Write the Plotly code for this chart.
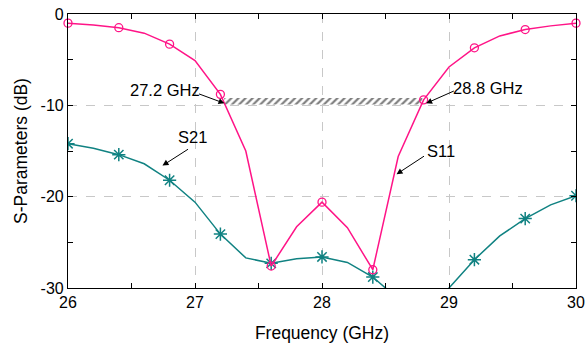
import plotly.graph_objects as go

freq = [26.0, 26.2, 26.4, 26.6, 26.8, 27.0, 27.2, 27.4, 27.6, 27.8, 28.0,
        28.2, 28.4, 28.6, 28.8, 29.0, 29.2, 29.4, 29.6, 29.8, 30.0]
s11 = [-1.0, -1.2, -1.5, -2.1, -3.3, -5.1, -8.8, -15.0, -27.6, -23.3, -20.6,
       -23.4, -28.0, -15.6, -9.4, -5.8, -3.7, -2.4, -1.7, -1.3, -1.0]
s21 = [-14.2, -14.7, -15.4, -16.4, -18.2, -20.6, -24.1, -26.7, -27.3, -26.8, -26.6,
       -27.2, -28.8, -31.2, -32.0, -30.0, -26.9, -24.3, -22.4, -20.9, -19.9]
band_x = [27.23, 28.79]
band_y = [-9.9, -9.2]
x_ticks = [26, 27, 28, 29, 30]
x_tick_labels = ["26", "27", "28", "29", "30"]
y_ticks = [0, -10, -20, -30]
y_tick_labels = ["0", "-10", "-20", "-30"]

PINK = "#FF1487"
TEAL = "#108282"
FONT = "Liberation Sans, Arial, sans-serif"

fig = go.Figure()

# hatched band between -10 dB crossings
fig.add_trace(go.Scatter(
    x=[band_x[0], band_x[1], band_x[1], band_x[0], band_x[0]],
    y=[band_y[0], band_y[0], band_y[1], band_y[1], band_y[0]],
    mode="lines", fill="toself", line=dict(width=0),
    fillcolor="rgba(255,255,255,0)",
    fillpattern=dict(shape="/", fgcolor="black", bgcolor="white", size=5, solidity=0.45),
    hoverinfo="skip", showlegend=False))

fig.add_trace(go.Scatter(x=freq, y=s21, mode="lines", line=dict(color=TEAL, width=1.5),
                         showlegend=False))
fig.add_trace(go.Scatter(x=freq[::2], y=s21[::2], mode="markers",
                         marker=dict(symbol="asterisk-open", size=11, color=TEAL,
                                     line=dict(color=TEAL, width=1.5)),
                         cliponaxis=True, showlegend=False))
fig.add_trace(go.Scatter(x=freq, y=s11, mode="lines", line=dict(color=PINK, width=1.5),
                         showlegend=False))
fig.add_trace(go.Scatter(x=freq[::2], y=s11[::2], mode="markers",
                         marker=dict(symbol="circle-open", size=8, color=PINK,
                                     line=dict(color=PINK, width=1.3)),
                         cliponaxis=False, showlegend=False))

def arrow(x, y, ax, ay):
    fig.add_annotation(x=x, y=y, ax=ax, ay=ay, xref="x", yref="y", axref="x", ayref="y",
                       text="", showarrow=True, arrowhead=2, arrowsize=1.2,
                       arrowwidth=1, arrowcolor="black")

def label(x, y, t):
    fig.add_annotation(x=x, y=y, xref="x", yref="y", text=t, showarrow=False,
                       font=dict(family=FONT, size=16.5, color="black"))

label(26.76, -8.36, "27.2 GHz")
arrow(27.232, -9.78, 27.02, -8.69)
label(29.31, -8.07, "28.8 GHz")
arrow(28.82, -9.78, 29.05, -8.36)
label(26.984, -13.5, "S21")
arrow(26.744, -16.6, 26.957, -14.7)
label(28.937, -15.0, "S11")
arrow(28.587, -17.54, 28.815, -15.46)

axis_common = dict(showline=True, linecolor="black", linewidth=1.2, mirror="allticks",
                   ticks="inside", ticklen=5, tickcolor="black", automargin=False,
                   showgrid=True, gridcolor="#C8C8C8", griddash="dash", gridwidth=1,
                   zeroline=False, tickfont=dict(family=FONT, size=16, color="black"))

fig.update_xaxes(range=[26, 30], tickvals=x_ticks, ticktext=x_tick_labels,
                 minor=dict(ticks="inside", ticklen=5, dtick=0.5, tick0=26, tickcolor="black", showgrid=False),
                 title=dict(text="Frequency (GHz)", font=dict(family=FONT, size=17.5, color="black"), standoff=16),
                 **axis_common)
fig.update_yaxes(range=[-30, 0], tickvals=y_ticks, ticktext=y_tick_labels,
                 minor=dict(ticks="inside", ticklen=5, dtick=5, tick0=0, tickcolor="black", showgrid=False),
                 title=dict(text="S-Parameters (dB)", font=dict(family=FONT, size=17.5, color="black"), standoff=8),
                 **axis_common)

fig.update_layout(width=586, height=348, margin=dict(l=68, r=10, t=14, b=60),
                  plot_bgcolor="white", paper_bgcolor="white",
                  font=dict(family=FONT, color="black"))

fig.write_html("out.html")
